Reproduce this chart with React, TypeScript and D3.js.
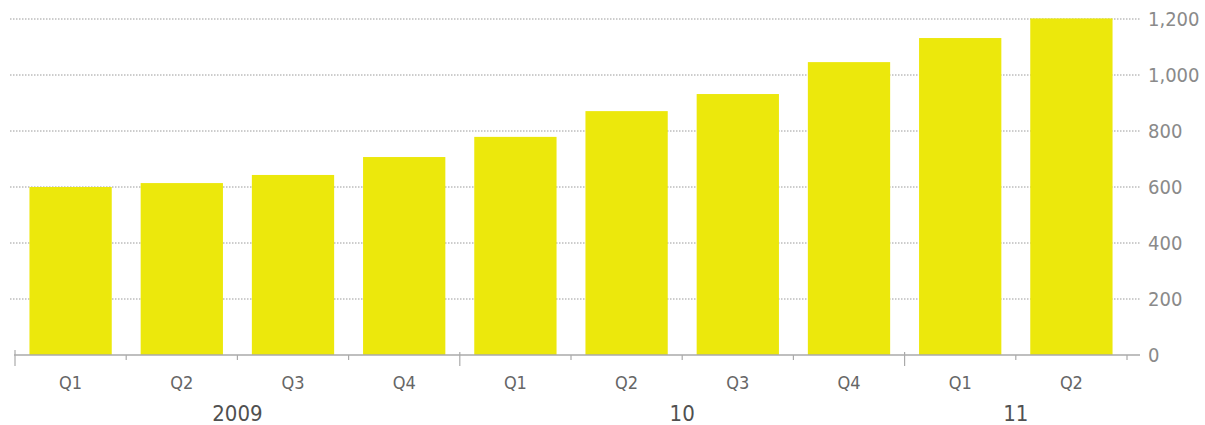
import React from "react";
import * as d3 from "d3";

const quarters = ["Q1", "Q2", "Q3", "Q4", "Q1", "Q2", "Q3", "Q4", "Q1", "Q2"];
const years = ["2009", "2009", "2009", "2009", "10", "10", "10", "10", "11", "11"];
const values = [600, 614, 643, 707, 779, 871, 932, 1046, 1132, 1202];
const yTicks = [0, 200, 400, 600, 800, 1000, 1200];
const yearLabels = ["2009", "10", "11"];

const W = 1205;
const H = 425;
const left = 15;
const right = 1127;
const top = 19;
const bottom = 355;
const font = "'DejaVu Sans Condensed', 'DejaVu Sans', sans-serif";

export default function App() {
  const keys = values.map((_, i) => String(i));
  const x = d3.scaleBand<string>().domain(keys).range([left, right]).paddingInner(0.26).paddingOuter(0.13);
  const y = d3.scaleLinear().domain([0, 1200]).range([bottom, top]);
  const boundary = (i: number) => left + i * ((right - left) / values.length);

  const yearGroups = yearLabels.map((yl) => {
    const idx = years.map((v, i) => (v === yl ? i : -1)).filter((i) => i >= 0);
    const a = boundary(idx[0]);
    const b = boundary(idx[idx.length - 1] + 1);
    return { label: yl, start: a, end: b, mid: (a + b) / 2 };
  });

  return (
    <svg width={W} height={H} style={{ display: "block", position: "absolute", left: 0, top: 0 }}>
      <rect x={0} y={0} width={W} height={H} fill="#fff" />
      {yTicks.filter((t) => t > 0).map((t) => (
        <line key={"g" + t} x1={10} x2={1140} y1={y(t)} y2={y(t)} stroke="#9a9a9a" strokeWidth={1} strokeDasharray="1.5,1.5" />
      ))}
      {values.map((v, i) => (
        <rect key={"b" + i} x={x(String(i))} y={y(v)} width={x.bandwidth()} height={bottom - y(v)} fill="#ECE80C" />
      ))}
      <line x1={14} x2={1140} y1={bottom} y2={bottom} stroke="#aaa" strokeWidth={1.5} />
      {d3.range(values.length + 1).map((i) => {
        const bx = boundary(i);
        const isYear = yearGroups.some((g) => Math.abs(g.start - bx) < 0.5);
        return (
          <line key={"t" + i} x1={bx} x2={bx} y1={isYear ? (i === 0 ? 350 : 352) : bottom} y2={isYear ? 366 : 360} stroke="#aaa" strokeWidth={1.2} />
        );
      })}
      {yTicks.map((t) => (
        <text key={"yl" + t} x={1148} y={y(t)} dy="0.35em" fontFamily={font} fontSize={20} fill="#8a8a8a">
          {d3.format(",")(t)}
        </text>
      ))}
      {quarters.map((q, i) => (
        <text key={"q" + i} x={(x(String(i)) as number) + x.bandwidth() / 2} y={389} textAnchor="middle" fontFamily={font} fontSize={18} fill="#666">
          {q}
        </text>
      ))}
      {yearGroups.map((g) => (
        <text key={"y" + g.label} x={g.mid} y={421} textAnchor="middle" fontFamily={font} fontSize={22} fill="#505050">
          {g.label}
        </text>
      ))}
    </svg>
  );
}
